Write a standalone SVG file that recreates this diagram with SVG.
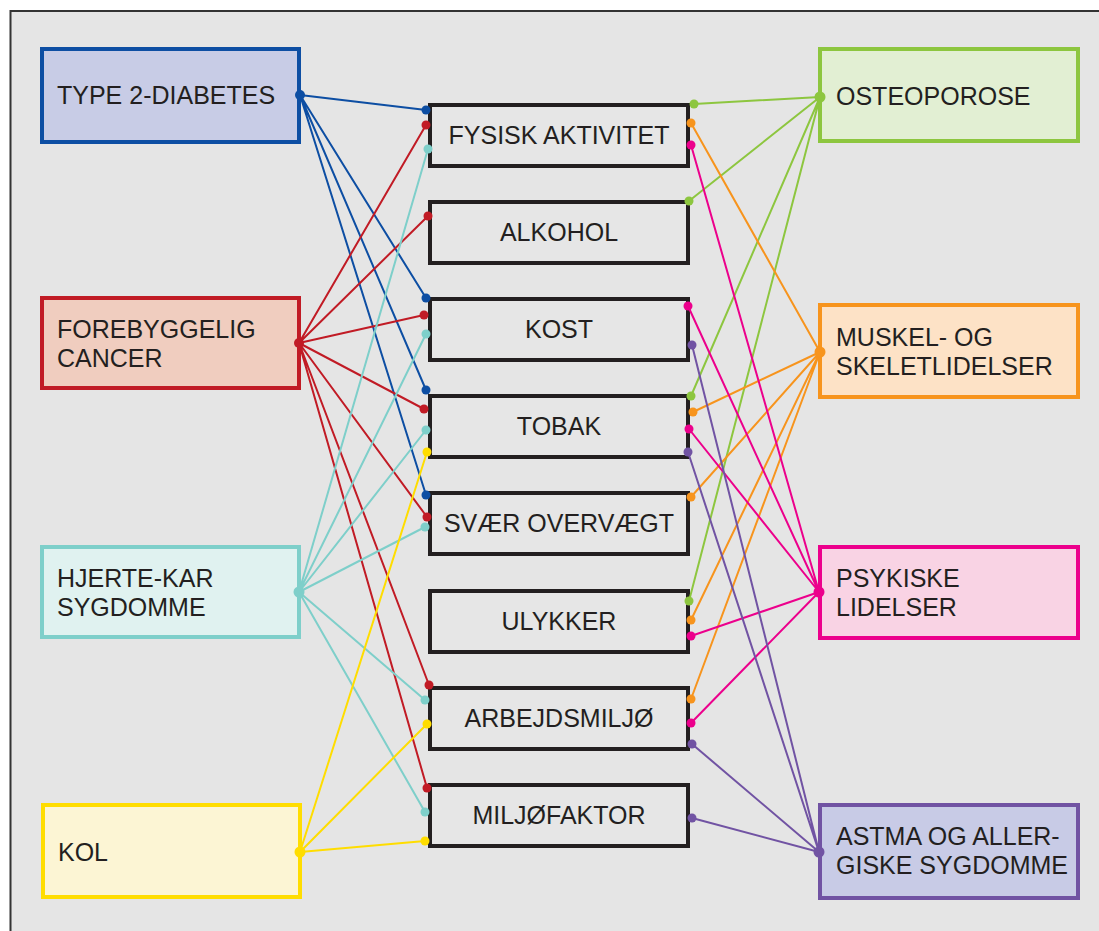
<svg xmlns="http://www.w3.org/2000/svg" width="1099" height="931" viewBox="0 0 1099 931">
<style>
text{font-family:"Liberation Sans",Arial,sans-serif;font-size:25px;fill:#231f20}
.mid{fill:#e6e6e6;stroke:#231f20;stroke-width:4}
.c{text-anchor:middle}
.ln{fill:none;stroke-width:2}
.blue{stroke:#0d4ea3}.blue-f{fill:#0d4ea3}
.red{stroke:#c11b25}.red-f{fill:#c11b25}
.teal{stroke:#7ecfca}.teal-f{fill:#7ecfca}
.yel{stroke:#ffdd00}.yel-f{fill:#ffdd00}
.grn{stroke:#8dc63f}.grn-f{fill:#8dc63f}
.org{stroke:#f7941d}.org-f{fill:#f7941d}
.pnk{stroke:#ec008c}.pnk-f{fill:#ec008c}
.pur{stroke:#7153a3}.pur-f{fill:#7153a3}
</style>
<rect x="0" y="0" width="1099" height="931" fill="#ffffff"/>
<rect x="10.5" y="11" width="1100" height="930" fill="#e5e5e5" stroke="#333333" stroke-width="2"/>

<g id="type2">
<rect x="42" y="49" width="257" height="93" fill="#c8cce6" stroke="#0d4ea3" stroke-width="4"/>
<text x="57" y="104">TYPE 2-DIABETES</text>
</g>
<g id="cancer">
<rect x="42" y="298" width="257" height="90" fill="#f0cdbf" stroke="#c11b25" stroke-width="4"/>
<text x="57" y="338">FOREBYGGELIG</text>
<text x="57" y="367">CANCER</text>
</g>
<g id="hjerte">
<rect x="42" y="547" width="257" height="90" fill="#e0f2f0" stroke="#7ecfca" stroke-width="4"/>
<text x="57" y="587">HJERTE-KAR</text>
<text x="57" y="616">SYGDOMME</text>
</g>
<g id="kol">
<rect x="43" y="805" width="257" height="92" fill="#fcf5d4" stroke="#ffdd00" stroke-width="4"/>
<text x="58" y="861">KOL</text>
</g>

<g id="fysisk"><rect class="mid" x="430" y="105" width="258" height="61"/><text class="c" x="559" y="144">FYSISK AKTIVITET</text></g>
<g id="alkohol"><rect class="mid" x="430" y="202" width="258" height="61"/><text class="c" x="559" y="241">ALKOHOL</text></g>
<g id="kost"><rect class="mid" x="430" y="299" width="258" height="61"/><text class="c" x="559" y="338">KOST</text></g>
<g id="tobak"><rect class="mid" x="430" y="396" width="258" height="61"/><text class="c" x="559" y="435">TOBAK</text></g>
<g id="svaer"><rect class="mid" x="430" y="493" width="258" height="61"/><text class="c" x="559" y="532">SVÆR OVERVÆGT</text></g>
<g id="ulykker"><rect class="mid" x="430" y="591" width="258" height="61"/><text class="c" x="559" y="630">ULYKKER</text></g>
<g id="arbejd"><rect class="mid" x="430" y="688" width="258" height="61"/><text class="c" x="559" y="727">ARBEJDSMILJØ</text></g>
<g id="miljo"><rect class="mid" x="430" y="785" width="258" height="61"/><text class="c" x="559" y="824">MILJØFAKTOR</text></g>

<g id="osteo">
<rect x="820" y="49" width="258" height="92" fill="#e2efd3" stroke="#8dc63f" stroke-width="4"/>
<text x="836" y="105">OSTEOPOROSE</text>
</g>
<g id="muskel">
<rect x="820" y="305" width="258" height="92" fill="#fde2c6" stroke="#f7941d" stroke-width="4"/>
<text x="836" y="346">MUSKEL- OG</text>
<text x="836" y="375">SKELETLIDELSER</text>
</g>
<g id="psyk">
<rect x="820" y="547" width="258" height="91" fill="#f9d3e4" stroke="#ec008c" stroke-width="4"/>
<text x="836" y="587">PSYKISKE</text>
<text x="836" y="616">LIDELSER</text>
</g>
<g id="astma">
<rect x="820" y="805" width="258" height="93" fill="#c8cbe6" stroke="#7153a3" stroke-width="4"/>
<text x="836" y="845">ASTMA OG ALLER-</text>
<text x="836" y="874">GISKE SYGDOMME</text>
</g>

<g id="connectors">
<g class="ln blue">
<path d="M300 95L426 110M300 95L426 298M300 95L426 390M300 95L426 495"/>
</g>
<g class="ln red">
<path d="M299 343L426 125M299 343L428 216M299 343L424 315M299 343L424 409M299 343L427 517M299 343L429 685M299 343L427 788"/>
</g>
<g class="ln teal">
<path d="M299 592L428 149M299 592L426 334M299 592L426 430M299 592L425 527M299 592L425 700M299 592L425 812"/>
</g>
<g class="ln yel">
<path d="M300 852L427 452M300 852L427 724M300 852L425 841"/>
</g>
<g class="ln grn">
<path d="M820 97L694 104M820 97L689 201M820 97L691 396M820 97L689 601"/>
</g>
<g class="ln org">
<path d="M820 352L691 123M820 352L693 412M820 352L691 497M820 352L691 620M820 352L691 699"/>
</g>
<g class="ln pnk">
<path d="M819 592L691 145M819 592L688 306M819 592L689 429M819 592L691 636M819 592L691 723"/>
</g>
<g class="ln pur">
<path d="M819 852L692 345M819 852L688 452M819 852L692 744M819 852L692 818"/>
</g>
<g class="blue-f">
<circle cx="300" cy="95" r="5"/><circle cx="426" cy="110" r="4.5"/><circle cx="426" cy="298" r="4.5"/><circle cx="426" cy="390" r="4.5"/><circle cx="426" cy="495" r="4.5"/>
</g>
<g class="red-f">
<circle cx="299" cy="343" r="5"/><circle cx="426" cy="125" r="4.5"/><circle cx="428" cy="216" r="4.5"/><circle cx="424" cy="315" r="4.5"/><circle cx="424" cy="409" r="4.5"/><circle cx="427" cy="517" r="4.5"/><circle cx="429" cy="685" r="4.5"/><circle cx="427" cy="788" r="4.5"/>
</g>
<g class="teal-f">
<circle cx="299" cy="592" r="5.5"/><circle cx="428" cy="149" r="4.5"/><circle cx="426" cy="334" r="4.5"/><circle cx="426" cy="430" r="4.5"/><circle cx="425" cy="527" r="4.5"/><circle cx="425" cy="700" r="4.5"/><circle cx="425" cy="812" r="4.5"/>
</g>
<g class="yel-f">
<circle cx="300" cy="852" r="5.5"/><circle cx="427" cy="452" r="4.5"/><circle cx="427" cy="724" r="4.5"/><circle cx="425" cy="841" r="4.5"/>
</g>
<g class="grn-f">
<circle cx="820" cy="97" r="5.5"/><circle cx="694" cy="104" r="4.5"/><circle cx="689" cy="201" r="4.5"/><circle cx="691" cy="396" r="4.5"/><circle cx="689" cy="601" r="4.5"/>
</g>
<g class="org-f">
<circle cx="820" cy="352" r="5.5"/><circle cx="691" cy="123" r="4.5"/><circle cx="693" cy="412" r="4.5"/><circle cx="691" cy="497" r="4.5"/><circle cx="691" cy="620" r="4.5"/><circle cx="691" cy="699" r="4.5"/>
</g>
<g class="pnk-f">
<circle cx="819" cy="592" r="5.5"/><circle cx="691" cy="145" r="4.5"/><circle cx="688" cy="306" r="4.5"/><circle cx="689" cy="429" r="4.5"/><circle cx="691" cy="636" r="4.5"/><circle cx="691" cy="723" r="4.5"/>
</g>
<g class="pur-f">
<circle cx="819" cy="852" r="5.5"/><circle cx="692" cy="345" r="4.5"/><circle cx="688" cy="452" r="4.5"/><circle cx="692" cy="744" r="4.5"/><circle cx="692" cy="818" r="4.5"/>
</g>
</g>
</svg>
